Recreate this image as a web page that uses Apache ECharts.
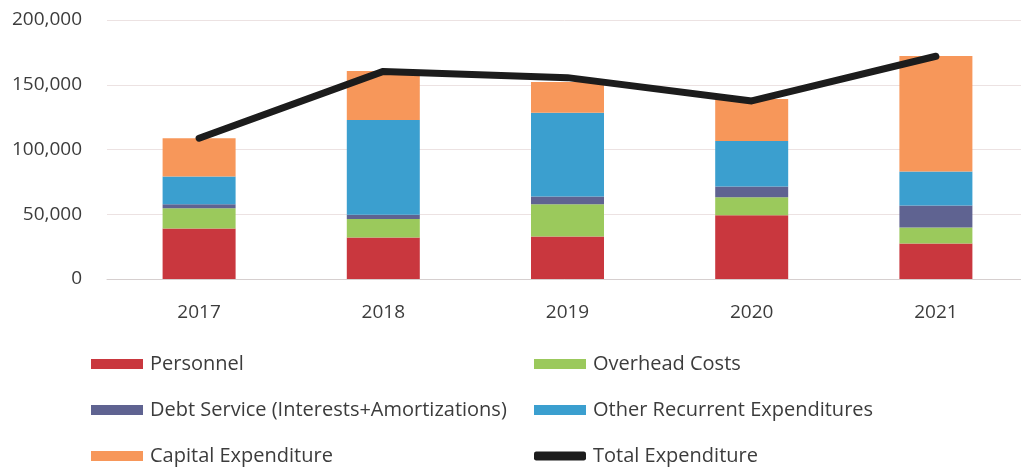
<!DOCTYPE html>
<html>
<head>
<meta charset="utf-8">
<script src="https://cdn.jsdelivr.net/npm/echarts@6/dist/echarts.min.js"></script>
<style>
  html, body { margin: 0; padding: 0; background: #ffffff; }
  #chart { width: 1021px; height: 471px; }
</style>
</head>
<body>
<div id="chart"></div>
<script>
// Yearly expenditure breakdown
const years = ['2017', '2018', '2019', '2020', '2021'];
const personnel = [39000, 32100, 32800, 49300, 27400];
const overheadCosts = [15700, 14200, 25000, 13900, 12400];
const debtService = [3100, 3300, 5900, 8200, 16900];
const otherRecurrent = [21300, 73200, 64700, 35200, 26300];
const capitalExpenditure = [29600, 37800, 23700, 32400, 89200];
const totalExpenditure = [108700, 160300, 155500, 137500, 172000];
const yTicks = [0, 50000, 100000, 150000, 200000];

const FONT = '"Open Sans", "Liberation Sans", sans-serif';
const TEXT = '#3c3c3c';
const LINE_COLOR = '#1c1c1c';

const seriesColors = {
  'Personnel': '#c9373e',
  'Overhead Costs': '#9bc95c',
  'Debt Service (Interests+Amortizations)': '#5f6391',
  'Other Recurrent Expenditures': '#3b9fcf',
  'Capital Expenditure': '#f7975a',
  'Total Expenditure': LINE_COLOR
};

const barSeries = [
  { name: 'Personnel', data: personnel },
  { name: 'Overhead Costs', data: overheadCosts },
  { name: 'Debt Service (Interests+Amortizations)', data: debtService },
  { name: 'Other Recurrent Expenditures', data: otherRecurrent },
  { name: 'Capital Expenditure', data: capitalExpenditure }
].map(s => ({
  name: s.name,
  type: 'bar',
  stack: 'spend',
  barWidth: 73,
  data: s.data,
  itemStyle: { color: seriesColors[s.name] },
  emphasis: { disabled: true }
}));

// legend entries laid out in two columns, three rows
const legendSpec = [
  { name: 'Personnel', left: 91, row: 0 },
  { name: 'Overhead Costs', left: 534, row: 0 },
  { name: 'Debt Service (Interests+Amortizations)', left: 91, row: 1 },
  { name: 'Other Recurrent Expenditures', left: 534, row: 1 },
  { name: 'Capital Expenditure', left: 91, row: 2 },
  { name: 'Total Expenditure', left: 534, row: 2, line: true }
];
const rowCenters = [365, 411, 457];

const legends = legendSpec.map(l => ({
  data: [{ name: l.name, icon: l.line ? 'roundRect' : 'rect', itemStyle: { color: seriesColors[l.name] } }],
  left: l.left,
  top: rowCenters[l.row] - 11,
  padding: 0,
  orient: 'horizontal',
  selectedMode: false,
  itemWidth: 52,
  itemHeight: l.line ? 9 : 10,
  textStyle: { fontFamily: FONT, fontSize: 20, color: TEXT, padding: [0, 0, 0, 2] }
}));

const chart = echarts.init(document.getElementById('chart'), null, { renderer: 'canvas' });
chart.setOption({
  backgroundColor: '#ffffff',
  animation: false,
  legend: legends,
  grid: {
    left: 107,
    top: 20,
    width: 921,
    height: 259,
    containLabel: false,
    outerBoundsMode: 'none'
  },
  xAxis: {
    type: 'category',
    data: years,
    axisLine: { show: true, lineStyle: { color: '#d6cfcf', width: 1 } },
    axisTick: { show: false },
    axisLabel: { fontFamily: FONT, fontSize: 19, color: TEXT, margin: 24 }
  },
  yAxis: {
    type: 'value',
    min: yTicks[0],
    max: yTicks[yTicks.length - 1],
    interval: yTicks[1] - yTicks[0],
    axisLine: { show: false },
    axisTick: { show: false },
    splitLine: { lineStyle: { color: '#ece2e2', width: 1 } },
    axisLabel: {
      fontFamily: FONT,
      fontSize: 19,
      color: TEXT,
      margin: 25,
      formatter: v => v.toLocaleString('en-US')
    }
  },
  series: barSeries.concat([{
    name: 'Total Expenditure',
    type: 'line',
    data: totalExpenditure,
    symbol: 'none',
    lineStyle: { color: LINE_COLOR, width: 7, cap: 'round', join: 'round' },
    itemStyle: { color: LINE_COLOR },
    z: 5,
    emphasis: { disabled: true }
  }])
});
</script>
</body>
</html>
